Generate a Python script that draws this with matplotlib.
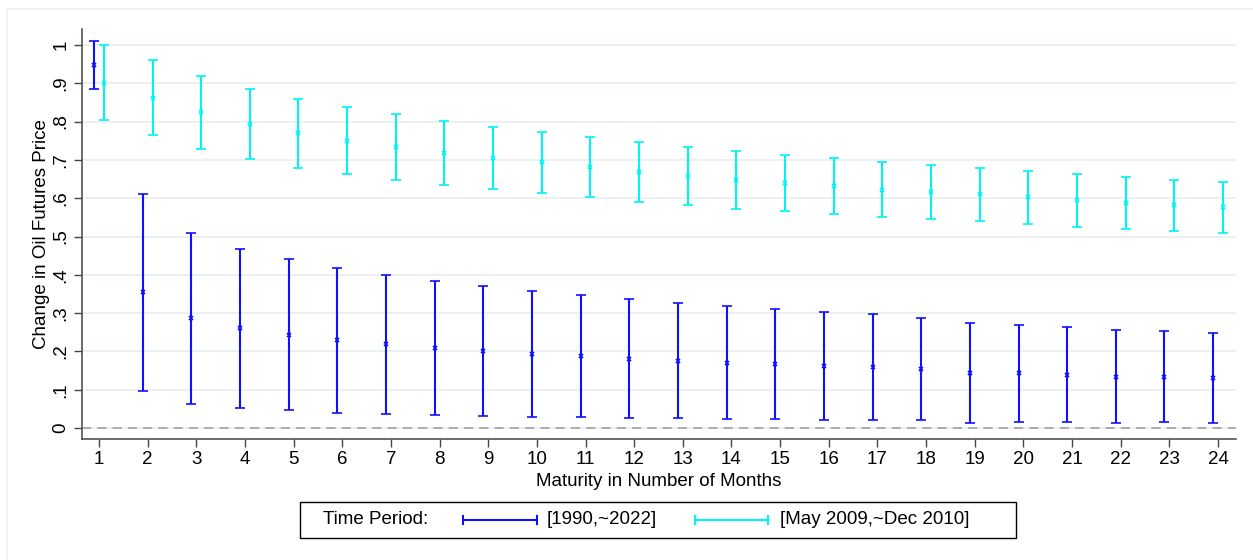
import numpy as np
import matplotlib
matplotlib.use("Agg")
import matplotlib.pyplot as plt
from matplotlib.lines import Line2D
from matplotlib.patches import Rectangle

plt.rcParams['font.family'] = ['Liberation Sans', 'DejaVu Sans']

# Data
months = np.arange(1, 25)

full_est = [0.947, 0.355, 0.288, 0.262, 0.244, 0.230, 0.219, 0.209, 0.200, 0.193,
            0.187, 0.180, 0.176, 0.171, 0.167, 0.162, 0.159, 0.153, 0.143, 0.143,
            0.139, 0.134, 0.134, 0.130]
full_lo = [0.885, 0.097, 0.063, 0.053, 0.047, 0.040, 0.036, 0.034, 0.032, 0.030,
           0.028, 0.027, 0.025, 0.024, 0.023, 0.022, 0.021, 0.020, 0.014, 0.016,
           0.015, 0.013, 0.015, 0.012]
full_hi = [1.010, 0.612, 0.510, 0.468, 0.440, 0.418, 0.400, 0.385, 0.370, 0.358,
           0.347, 0.336, 0.327, 0.319, 0.312, 0.304, 0.297, 0.287, 0.273, 0.270,
           0.264, 0.255, 0.254, 0.249]

sub_est = [0.902, 0.862, 0.824, 0.793, 0.769, 0.750, 0.733, 0.718, 0.706, 0.694,
           0.681, 0.669, 0.658, 0.648, 0.640, 0.631, 0.622, 0.616, 0.610, 0.602,
           0.596, 0.588, 0.582, 0.576]
sub_lo = [0.803, 0.764, 0.729, 0.702, 0.680, 0.662, 0.647, 0.634, 0.624, 0.614,
          0.602, 0.591, 0.582, 0.572, 0.566, 0.558, 0.550, 0.545, 0.540, 0.532,
          0.526, 0.520, 0.515, 0.509]
sub_hi = [1.000, 0.961, 0.919, 0.885, 0.858, 0.838, 0.820, 0.802, 0.787, 0.774,
          0.760, 0.748, 0.735, 0.723, 0.713, 0.705, 0.695, 0.688, 0.680, 0.672,
          0.664, 0.655, 0.648, 0.642]

yticks = np.arange(0, 1.01, 0.1)
ytick_labels = ["0", ".1", ".2", ".3", ".4", ".5", ".6", ".7", ".8", ".9", "1"]
series_labels = ["[1990,~2022]", "[May 2009,~Dec 2010]"]

BLUE = "#1010ff"
CYAN = "#00f4f4"
FS = 13.5

W, H = 1253, 560
fig = plt.figure(figsize=(W / 100, H / 100), dpi=100)
ax = fig.add_axes([82 / W, 1 - 439 / H, (1236 - 82) / W, (439 - 29) / H])

# faint outer frame
fig.patches.append(Rectangle((7 / W, -0.1), 1.2, 1 - 9 / H + 0.1, transform=fig.transFigure,
                             fill=False, edgecolor="#eef0f2", linewidth=1.2))

for lo, hi, est, off, col in [(full_lo, full_hi, full_est, -0.1, BLUE),
                              (sub_lo, sub_hi, sub_est, 0.1, CYAN)]:
    est = np.array(est)
    err = [est - np.array(lo), np.array(hi) - est]
    ax.errorbar(months + off, est, yerr=err, fmt="x", color=col, ecolor=col,
                markersize=3.5, markeredgewidth=1.2, elinewidth=1.5,
                capsize=3.4, capthick=1.5, zorder=3)

ax.axhline(0, color="#999999", linestyle=(0, (6, 4)), linewidth=1.1, zorder=2)

ax.set_xlim(0.65, 24.37)
ax.set_ylim(-0.0287, 1.0418)
ax.set_xticks(months)
ax.set_yticks(yticks)
ax.set_yticklabels(ytick_labels, rotation=90, va="center")
ax.grid(axis="y", color="#e8eef1", linewidth=1.2)
ax.set_axisbelow(True)
for s in ["top", "right"]:
    ax.spines[s].set_visible(False)
for s in ["left", "bottom"]:
    ax.spines[s].set_color("#444444")
    ax.spines[s].set_linewidth(1.1)
ax.tick_params(axis="both", labelsize=FS, length=6, width=1.0, color="#444444", pad=3)
ax.set_xlabel("Maturity in Number of Months", fontsize=FS, labelpad=3)
ax.set_ylabel("Change in Oil Futures Price", fontsize=FS, labelpad=2)

# legend box, Stata style
fig.patches.append(Rectangle((300 / W, 1 - 538 / H), 716 / W, 36 / H, transform=fig.transFigure,
                             fill=False, edgecolor="black", linewidth=1.0))
ly = 1 - 520 / H
fig.text(323 / W, ly, "Time Period:", fontsize=FS, va="center", ha="left")
for (x0, x1, tx), col, lab in zip([(463, 537, 547), (695, 768, 780)], [BLUE, CYAN], series_labels):
    fig.add_artist(Line2D([x0 / W, x1 / W], [ly, ly], color=col, linewidth=1.5,
                          transform=fig.transFigure))
    for xc in (x0, x1):
        fig.add_artist(Line2D([xc / W, xc / W], [ly - 4 / H, ly + 4 / H], color=col,
                              linewidth=1.5, transform=fig.transFigure))
    fig.text(tx / W, ly, lab, fontsize=FS, va="center", ha="left")

fig.savefig("out.png", dpi=100, facecolor="white")
